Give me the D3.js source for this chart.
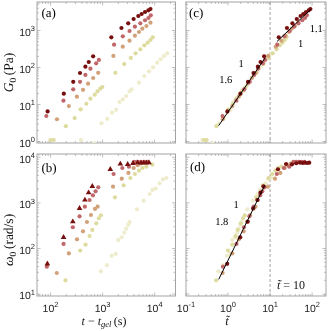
<!DOCTYPE html>
<html><head><meta charset="utf-8">
<script src="https://cdn.jsdelivr.net/npm/d3@7"></script>
<style>body{margin:0;background:#fff} svg{will-change:transform} text{text-rendering:geometricPrecision}</style>
</head><body>
<svg id="c" width="331" height="331"></svg>
<script>
// ---------- DATA ----------
const seriesNames = ['pale','yellow','tan','rose','dark'];
const seriesColors = ['#eeeccc','#dedb9e','#d1a27a','#c0676a','#780f0f'];

// Panel (a): G0 (Pa) vs t - t_gel (s)
const aPaleT   = [385,680,953,1230,1517,1815,2100,2440,2840,3290,3600,4990,6340,7800,9300,11140,12970,15000,17400];
const aPaleG   = [1.1,0.9,3.1,4.1,6.0,7.2,11.7,13.8,17,22.7,25.8,38.8,59,79,101,135,166,204,242];
const aYellowT = [100,115,197,290,379,488,583,708,798,900,985,1760,2600,3480,4300,5300,6340,7350,8300,9200];
const aYellowG = [1.1,1.1,2.6,4.3,7.4,10.5,14.4,18.4,22.7,26.7,29.7,72,124,181,242,310,398,468,553,655];
const aTanT    = [133,225,321,421,526,658,823,1610,2440,3290,4170,4990,5800,6940,8300];
const aTanG    = [4.0,9.1,16.3,25,36.5,52,72,205,365,530,724,910,1119,1324,1625];
const aRoseT   = [83,177,273,368,467,583,752,848,1660,2440,3290,4170,5300,6520,7590,8410];
const aRoseG   = [4.9,12.7,25.8,41,63,93,130,160,413,697,969,1268,1566,1890,2177,2570];
const aDarkT   = [88,180,273,368,467,542,658,1470,2300,3100,3940,4850,5620,6520,7590,8300];
const aDarkG   = [6.5,19.6,41,71,105,141,201,655,1170,1566,2045,2464,2790,3160,3515,3810];

// Panel (b): omega0 (rad/s) vs t - t_gel (s)
const bPaleT   = [929,1210,1490,1780,2000,2320,2610,2850,3120,3300,4570,6140,8010,9020,10440,12470,14450,16800];
const bPaleW   = [31.6,43,69,76,153,176,222,272,332,381,724,1117,1566,1920,2048,2690,3300,3515];
const bYellowT = [194,371,471,562,634,757,849,929,1726,2535,3410,4180,4990,5800,6920,9010];
const bYellowW = [20,90,121,188,255,357,460,535,1327,2430,3515,4300,5080,5820,6220,6890];
const bTanT    = [132,225,322,420,501,598,714,803,1585,2330,3130,3950,4710,5500,6300,7000];
const bTanW    = [29,78,159,238,381,543,737,826,2265,3400,4530,5820,6680,7300,7700,7890];
const bRoseT   = [85,178,268,361,457,562,652,733,826,1625,2390,3200,4070,4710,5460,6340,7350];
const bRoseW   = [40,126,292,508,826,1158,1468,1796,2198,4300,5820,6220,7890,7890,7890,7890,7890];
const bDarkT   = [87,178,268,361,457,538,634,1406,2190,3030,3830,4710,5460,6150,6940,7780];
const bDarkW   = [46,176,387,762,1158,1675,2312,5460,7130,7020,7400,7620,7500,7620,7500,7620];

// Panel (c): G0 vs rescaled time
const cPaleT   = [0.243,0.429,0.601,0.776,0.957,1.145,1.325,1.539,1.79,2.08,2.27,3.15,4.0,4.92,5.87,7.03,8.18,9.46,10.98];
const cYellowT = [0.269,0.309,0.530,0.780,1.019,1.312,1.567,1.90,2.15,2.42,2.65,4.73,6.99,9.35,11.6,14.2,17.0,19.8,22.3,24.7];
const cTanT    = [0.747,1.264,1.80,2.37,2.96,3.70,4.62,9.04,13.7,18.5,23.4,28.0,32.6,39.0,46.6];
const cRoseT   = [0.741,1.58,2.44,3.29,4.17,5.21,6.71,7.57,14.8,21.8,29.4,37.2,47.3,58.2,67.8,75.1];
const cDarkT   = [0.965,1.974,2.99,4.04,5.12,5.94,7.21,16.1,25.2,34.0,43.2,53.2,61.6,71.5,83.2,91.0];

// Panel (d): omega0 vs rescaled time
const dPaleT   = [0.586,0.763,0.940,1.123,1.262,1.464,1.647,1.798,1.968,2.08,2.88,3.87,5.05,5.69,6.59,7.87,9.12,10.6];
const dYellowT = [0.522,0.997,1.266,1.511,1.704,2.03,2.28,2.50,4.64,6.81,9.17,11.2,13.4,15.6,18.6,24.2];
const dTanT    = [0.742,1.264,1.81,2.36,2.81,3.36,4.01,4.51,8.90,13.1,17.6,22.2,26.5,30.9,35.4,39.3];
const dRoseT   = [0.759,1.589,2.39,3.22,4.08,5.02,5.82,6.54,7.38,14.5,21.3,28.6,36.3,42.1,48.8,56.6,65.6];
const dDarkT   = [0.954,1.952,2.94,3.96,5.01,5.90,6.95,15.4,24.0,33.2,42.0,51.6,59.9,67.4,76.1,85.3];

// Power-law guide lines (endpoints) and slope triangles
const fitC1T = [0.6, 7.6],  fitC1G = [2.7, 180];
const fitC2T = [14.5, 93],  fitC2G = [500, 3740];
const fitDT  = [0.6, 7.5],  fitDW  = [21, 2450];
const triC1T = [1.49, 2.82, 1.49], triC1G = [85.6, 85.6, 29.2];
const triC2T = [35.9, 78.7, 78.7], triC2G = [755, 1730, 755];
const triDT  = [1.134, 2.15, 1.134], triDW = [664, 664, 233];
const slopeLabels = ['1.6','1.1','1.8'];
const tCross = 10;

// ---------- LAYOUT ----------
const svg = d3.select('#c');
const FRAME = '#a3a3a3';
const SERIF = "'Liberation Serif','DejaVu Serif',serif";
const SANS = "'Liberation Sans',Arial,sans-serif";

const layout = {
  a:{x0:37,x1:175.5,y0:2,y1:143,xd:[55,25100],yd:[0.912,5890]},
  b:{x0:37,x1:175.5,y0:154,y1:296,xd:[55,25100],yd:[9.08,11800]},
  c:{x0:186,x1:326,y0:2,y1:143,xd:[0.1,214],yd:[0.912,5890]},
  d:{x0:186,x1:326,y0:154,y1:296,xd:[0.1,214],yd:[9.08,11800]}
};
const sc = {};
for (const k in layout) {
  const p = layout[k];
  sc[k] = {x:d3.scaleLog().domain(p.xd).range([p.x0,p.x1]),
           y:d3.scaleLog().domain(p.yd).range([p.y1,p.y0])};
  svg.append('clipPath').attr('id','clip'+k).append('rect')
    .attr('x',p.x0).attr('y',p.y0).attr('width',p.x1-p.x0).attr('height',p.y1-p.y0);
}

function logTicks(d){
  const maj=[],min=[];
  for(let k=Math.floor(Math.log10(d[0]));k<=Math.ceil(Math.log10(d[1]));k++){
    for(let m=1;m<=9;m++){const v=m*Math.pow(10,k); if(v>=d[0]*0.999&&v<=d[1]*1.001)(m===1?maj:min).push(v);}
  }
  return {maj,min};
}

function drawFrame(k){
  const p=layout[k], s=sc[k], g=svg.append('g');
  const xt=logTicks(p.xd), yt=logTicks(p.yd);
  const tick=(arr,len,isX)=>arr.forEach(v=>{
    if(isX){const x=s.x(v);
      g.append('line').attr('x1',x).attr('x2',x).attr('y1',p.y1).attr('y2',p.y1-len);
      g.append('line').attr('x1',x).attr('x2',x).attr('y1',p.y0).attr('y2',p.y0+len);}
    else {const y=s.y(v);
      g.append('line').attr('y1',y).attr('y2',y).attr('x1',p.x0).attr('x2',p.x0+len);
      g.append('line').attr('y1',y).attr('y2',y).attr('x1',p.x1).attr('x2',p.x1-len);}
  });
  tick(xt.maj,3.5,true); tick(xt.min,2,true); tick(yt.maj,3.5,false); tick(yt.min,2,false);
  g.selectAll('line').attr('stroke',FRAME).attr('stroke-width',0.7);
  g.append('rect').attr('x',p.x0).attr('y',p.y0).attr('width',p.x1-p.x0).attr('height',p.y1-p.y0)
    .attr('fill','none').attr('stroke',FRAME).attr('stroke-width',1);
}

function powLabel(sel, exp){
  sel.append('tspan').text('10');
  sel.append('tspan').attr('dy',-4.5).attr('font-size',7.5).text(exp);
}

function xLabels(k){
  const p=layout[k], s=sc[k];
  logTicks(p.xd).maj.forEach(v=>{
    const t=svg.append('text').attr('x',s.x(v)).attr('y',311.5).attr('text-anchor','middle')
      .attr('font-family',SANS).attr('font-size',10.5).attr('fill','#222');
    powLabel(t, String(Math.round(Math.log10(v))));
  });
}
function yLabels(k){
  const p=layout[k], s=sc[k];
  logTicks(p.yd).maj.forEach(v=>{
    const t=svg.append('text').attr('x',35).attr('y',s.y(v)+5.3).attr('text-anchor','end')
      .attr('font-family',SANS).attr('font-size',10.5).attr('fill','#222');
    powLabel(t, String(Math.round(Math.log10(v))));
  });
}

function points(k, xs, ys, color, shape){
  const s=sc[k], g=svg.append('g').attr('clip-path','url(#clip'+k+')');
  const data=xs.map((x,i)=>[x,ys[i]]);
  if(shape==='tri'){
    g.selectAll('path').data(data).join('path')
      .attr('d',d3.symbol(d3.symbolTriangle).size(14))
      .attr('transform',d=>`translate(${s.x(d[0])},${s.y(d[1])})`).attr('fill',color);
  } else {
    g.selectAll('circle').data(data).join('circle')
      .attr('cx',d=>s.x(d[0])).attr('cy',d=>s.y(d[1])).attr('r',2.1).attr('fill',color);
  }
}

['a','b','c','d'].forEach(drawFrame);

// dashed line at t~ = 10
['c','d'].forEach(k=>{
  const p=layout[k], x=sc[k].x(tCross);
  svg.append('line').attr('x1',x).attr('x2',x).attr('y1',p.y0).attr('y2',p.y1)
    .attr('stroke','#888').attr('stroke-width',0.8).attr('stroke-dasharray','3,2');
});

const aT=[aPaleT,aYellowT,aTanT,aRoseT,aDarkT], aG=[aPaleG,aYellowG,aTanG,aRoseG,aDarkG];
const bT=[bPaleT,bYellowT,bTanT,bRoseT,bDarkT], bW=[bPaleW,bYellowW,bTanW,bRoseW,bDarkW];
const cT=[cPaleT,cYellowT,cTanT,cRoseT,cDarkT];
const dT=[dPaleT,dYellowT,dTanT,dRoseT,dDarkT];
seriesNames.forEach((n,i)=>{
  points('a',aT[i],aG[i],seriesColors[i]);
  points('b',bT[i],bW[i],seriesColors[i], n==='dark'?'tri':'circle');
  points('c',cT[i],aG[i],seriesColors[i]);
  points('d',dT[i],bW[i],seriesColors[i]);
});

// fit lines
function fitLine(k,xs,ys){
  const s=sc[k];
  svg.append('path').datum(xs.map((x,i)=>[x,ys[i]]))
    .attr('d',d3.line().x(d=>s.x(d[0])).y(d=>s.y(d[1])))
    .attr('stroke','#000').attr('stroke-width',1).attr('fill','none');
}
fitLine('c',fitC1T,fitC1G); fitLine('c',fitC2T,fitC2G); fitLine('d',fitDT,fitDW);

function tri(k,xs,ys){
  const s=sc[k];
  svg.append('path').datum(xs.map((x,i)=>[x,ys[i]]))
    .attr('d',d3.line().x(d=>s.x(d[0])).y(d=>s.y(d[1]))+'Z')
    .attr('stroke','#000').attr('stroke-width',0.8).attr('fill','none');
}
tri('c',triC1T,triC1G); tri('c',triC2T,triC2G); tri('d',triDT,triDW);

function txt(x,y,s,anchor,size){
  return svg.append('text').attr('x',x).attr('y',y).attr('text-anchor',anchor||'start')
    .attr('font-family',SERIF).attr('font-size',size||11).attr('fill','#000').text(s);
}
// slope labels
{ const s=sc.c;
  txt((s.x(triC1T[0])+s.x(triC1T[1]))/2, s.y(triC1G[0])-3,'1','middle',10.5);
  txt(s.x(triC1T[0])-3,(s.y(triC1G[0])+s.y(triC1G[2]))/2+4,slopeLabels[0],'end',10.5);
  txt(s.x(triC2T[1])+2,(s.y(triC2G[1])+s.y(triC2G[2]))/2+4,slopeLabels[1],'start',10.5);
  txt((s.x(triC2T[0])+s.x(triC2T[1]))/2, s.y(triC2G[0])+12,'1','middle',10.5);
  const t=sc.d;
  txt((t.x(triDT[0])+t.x(triDT[1]))/2, t.y(triDW[0])-3,'1','middle',10.5);
  txt(t.x(triDT[0])-2,(t.y(triDW[0])+t.y(triDW[2]))/2+4,slopeLabels[2],'end',10.5);
}

// panel tags
txt(41.5,16.5,'(a)','start',13);
txt(41.5,171.5,'(b)','start',13);
txt(189,16.5,'(c)','start',13);
txt(190,171,'(d)','start',13);

// tick labels
yLabels('a'); yLabels('b'); xLabels('b'); xLabels('d');

// axis labels
{
  const g1=svg.append('text').attr('transform','translate(13,72.5) rotate(-90)').attr('text-anchor','middle')
    .attr('font-family',SERIF).attr('font-size',13.5).attr('fill','#111');
  g1.append('tspan').attr('font-style','italic').text('G');
  g1.append('tspan').attr('font-size',9.5).attr('dy',2.5).text('0');
  g1.append('tspan').attr('dy',-2.5).text('\u2009(Pa)');
  const g2=svg.append('text').attr('transform','translate(13,240) rotate(-90)').attr('text-anchor','middle')
    .attr('font-family',SERIF).attr('font-size',13.5).attr('fill','#111');
  g2.append('tspan').attr('font-style','italic').text('\u03c9');
  g2.append('tspan').attr('font-size',9.5).attr('dy',2.5).text('0');
  g2.append('tspan').attr('dy',-2.5).text('\u2009(rad/s)');
  const g3=svg.append('text').attr('x',104).attr('y',325).attr('text-anchor','middle')
    .attr('font-family',SERIF).attr('font-size',12).attr('fill','#111');
  g3.append('tspan').attr('font-style','italic').text('t');
  g3.append('tspan').text(' \u2212 ');
  g3.append('tspan').attr('font-style','italic').text('t');
  g3.append('tspan').attr('font-style','italic').attr('font-size',8.5).attr('dy',2).text('gel');
  g3.append('tspan').attr('dy',-2).text('\u2009(s)');
  const g4=svg.append('text').attr('x',227).attr('y',325).attr('text-anchor','middle')
    .attr('font-family',SERIF).attr('font-size',12.5).attr('font-style','italic').attr('fill','#111');
  g4.text('t\u0303');
  const g5=svg.append('text').attr('x',277).attr('y',289)
    .attr('font-family',SERIF).attr('font-size',12).attr('fill','#111');
  g5.append('tspan').attr('font-style','italic').text('t\u0303');
  g5.append('tspan').text(' = ' + tCross);
}
</script>
</body></html>
